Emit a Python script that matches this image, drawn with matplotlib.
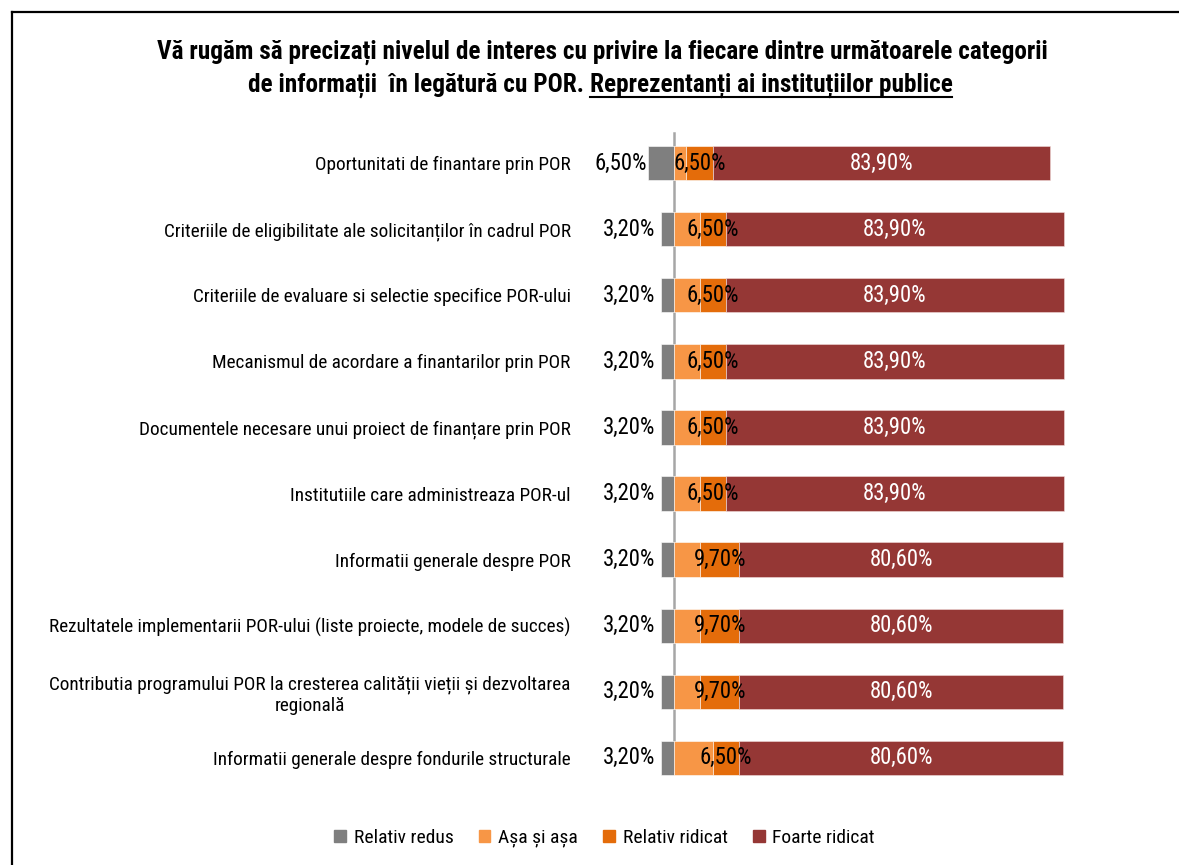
import matplotlib
matplotlib.use("Agg")
import matplotlib.pyplot as plt
from matplotlib import font_manager
from matplotlib.patches import Patch
from matplotlib.lines import Line2D

categories = [
    "Oportunitati de finantare prin POR",
    "Criteriile de eligibilitate ale solicitanților în cadrul POR",
    "Criteriile de evaluare si selectie specifice POR-ului",
    "Mecanismul de acordare a finantarilor prin POR",
    "Documentele necesare unui proiect de finanțare prin POR",
    "Institutiile care administreaza POR-ul",
    "Informatii generale despre POR",
    "Rezultatele implementarii POR-ului (liste proiecte, modele de succes)",
    "Contributia programului POR la cresterea calității vieții și dezvoltarea\nregională",
    "Informatii generale despre fondurile structurale",
]
relativ_redus = [6.5, 3.2, 3.2, 3.2, 3.2, 3.2, 3.2, 3.2, 3.2, 3.2]
asa_si_asa = [3.1, 6.5, 6.5, 6.5, 6.5, 6.5, 6.5, 6.5, 6.5, 9.7]
relativ_ridicat = [6.5, 6.5, 6.5, 6.5, 6.5, 6.5, 9.7, 9.7, 9.7, 6.5]
foarte_ridicat = [83.9, 83.9, 83.9, 83.9, 83.9, 83.9, 80.6, 80.6, 80.6, 80.6]
series_names = ["Relativ redus", "Așa și așa", "Relativ ridicat", "Foarte ridicat"]
colors = ["#7F7F7F", "#F79646", "#E46C0A", "#953735"]

names = {f.name for f in font_manager.fontManager.ttflist}
FONT = "Roboto"
scale = 0.87
for cand in ["Liberation Sans Narrow", "Roboto Condensed", "Open Sans Condensed"]:
    if cand in names:
        FONT = cand
        scale = 1.0
        break
plt.rcParams["font.family"] = [FONT, "DejaVu Sans"]

W, H = 1179, 865
fig = plt.figure(figsize=(W / 100, H / 100), dpi=100)

x0px, ppu = 674.0, 4.02
xmin, xmax = -25.0, 101.0
left_px = x0px + xmin * ppu
right_px = x0px + xmax * ppu
top_px, bot_px = 130.0, 791.0
ax = fig.add_axes([left_px / W, 1 - bot_px / H, (right_px - left_px) / W, (bot_px - top_px) / H])

n = len(categories)
ys = list(range(n))
h = 0.52
neg = [-v for v in relativ_redus]
ax.barh(ys, neg, height=h, color=colors[0], edgecolor="white", linewidth=0.4)
ax.barh(ys, asa_si_asa, height=h, left=0, color=colors[1], edgecolor="white", linewidth=0.4)
lft2 = [a for a in asa_si_asa]
ax.barh(ys, relativ_ridicat, height=h, left=lft2, color=colors[2], edgecolor="white", linewidth=0.4)
lft3 = [a + b for a, b in zip(asa_si_asa, relativ_ridicat)]
ax.barh(ys, foarte_ridicat, height=h, left=lft3, color=colors[3], edgecolor="#f2dcdb", linewidth=0.4)

fs_lab = 16.4 * scale
def fmt(v):
    return f"{v:.2f}".replace(".", ",") + "%"

for i in ys:
    g = relativ_redus[i]
    xg = min(-g - 0.1, -4.6)
    ax.text(xg, i, fmt(g), ha="right", va="center", fontsize=fs_lab, color="black")
    xc = asa_si_asa[i] + relativ_ridicat[i] / 2
    ax.text(xc, i, fmt(relativ_ridicat[i]), ha="center", va="center", fontsize=fs_lab, color="black")
    xr = lft3[i] + foarte_ridicat[i] / 2
    ax.text(xr, i, fmt(foarte_ridicat[i]), ha="center", va="center", fontsize=fs_lab, color="white")

ax.set_xlim(xmin, xmax)
ax.set_ylim(n - 0.5, -0.5)
ax.axvline(0, ymin=0.032, ymax=0.995, color="#A6A6A6", linewidth=1.8, zorder=0.5)
ax.set_yticks(ys)
ax.set_yticklabels(categories, fontsize=13.9 * scale, ha="center", multialignment="center")
for lbl in ax.get_yticklabels():
    lbl.set_horizontalalignment("right")
ax.tick_params(axis="y", length=0, pad=2)
ax.set_xticks([])
for s in ax.spines.values():
    s.set_visible(False)

# Title
fs_t = 18.15 * scale
fig.text(602 / W, 1 - 52 / H, "Vă rugăm să precizați nivelul de interes cu privire la fiecare dintre următoarele categorii",
         ha="center", va="center", fontsize=fs_t, fontweight="bold")
prefix = "de informații  în legătură cu POR. "
under = "Reprezentanți ai instituțiilor publice"
r = fig.canvas.get_renderer()
tp = fig.text(0, 0, prefix, fontsize=fs_t, fontweight="bold")
tu = fig.text(0, 0, under, fontsize=fs_t, fontweight="bold")
wp = tp.get_window_extent(r).width
wu = tu.get_window_extent(r).width
tot = wp + wu
startx = 600 - tot / 2
yl2 = 1 - 85 / H
tp.set_position((startx / W, yl2)); tp.set_va("center")
tu.set_position(((startx + wp) / W, yl2)); tu.set_va("center")
uy = 1 - 97 / H
fig.add_artist(Line2D([(startx + wp) / W, (startx + tot) / W], [uy, uy], color="black", linewidth=1.5))

# Legend
handles = [Patch(facecolor=c, edgecolor=c) for c in colors]
fig.legend(handles, series_names, loc="center", bbox_to_anchor=(604.5 / W, 1 - 838 / H), ncol=4,
           frameon=False, fontsize=14.0 * scale, handlelength=0.6, handleheight=0.6,
           handletextpad=0.4, columnspacing=1.3)

# Border
fig.add_artist(Line2D([12 / W, 12 / W], [0, 1 - 12 / H], color="black", linewidth=1.6))
fig.add_artist(Line2D([12 / W, 1], [1 - 12 / H, 1 - 12 / H], color="black", linewidth=1.6))

fig.savefig("out.png", dpi=100)
